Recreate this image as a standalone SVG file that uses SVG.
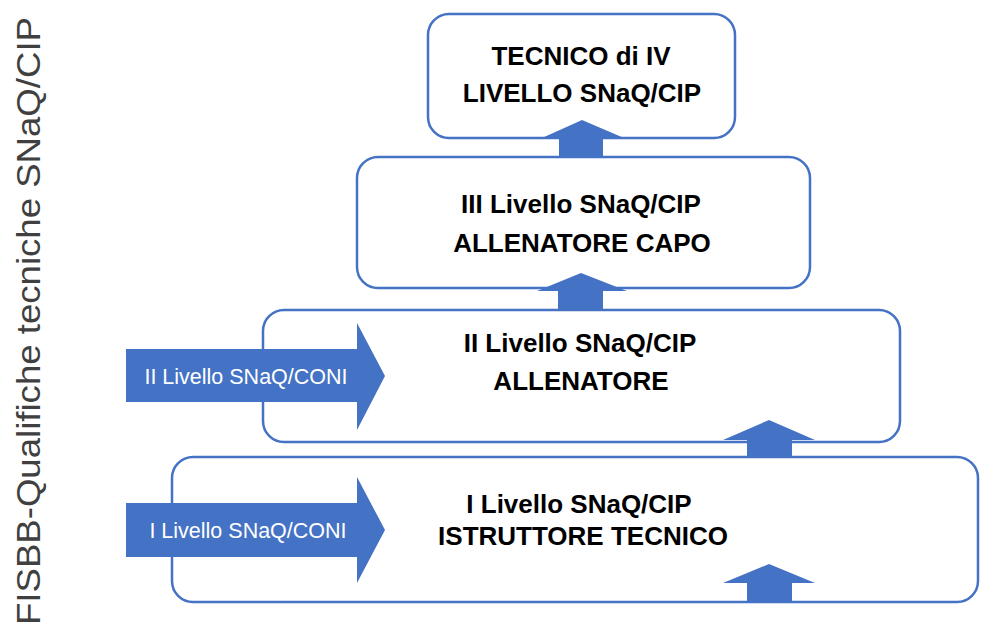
<svg xmlns="http://www.w3.org/2000/svg" width="981" height="628" viewBox="0 0 981 628">
  <style>
    .box { fill: #ffffff; stroke: #4472C4; stroke-width: 2.5; }
    .arrow { fill: #4472C4; stroke: none; }
    .lbl { font-family: "Liberation Sans", Arial, sans-serif; font-weight: bold; font-size: 26px; fill: #000000; text-anchor: middle; }
    .alabel { font-family: "Liberation Sans", Arial, sans-serif; font-size: 21.5px; fill: #ffffff; text-anchor: middle; }
    .side { font-family: "Liberation Sans", Arial, sans-serif; font-size: 34px; fill: #404040; }
  </style>
  <rect width="981" height="628" fill="#ffffff"/>

  <text class="side" transform="translate(40,625) rotate(-90)" textLength="608" lengthAdjust="spacingAndGlyphs">FISBB-Qualifiche tecniche SNaQ/CIP</text>

  <g id="livello1">
    <rect class="box" x="172" y="457" width="806" height="145" rx="21"/>
    <text class="lbl" x="579" y="513">I Livello SNaQ/CIP</text>
    <text class="lbl" x="583" y="545">ISTRUTTORE TECNICO</text>
  </g>

  <g id="livello2">
    <rect class="box" x="263" y="310" width="637" height="132" rx="21"/>
    <text class="lbl" x="580" y="352">II Livello SNaQ/CIP</text>
    <text class="lbl" x="581" y="390">ALLENATORE</text>
  </g>

  <g id="livello3">
    <rect class="box" x="357" y="157" width="453" height="131" rx="21"/>
    <text class="lbl" x="581" y="213">III Livello SNaQ/CIP</text>
    <text class="lbl" x="582" y="252">ALLENATORE CAPO</text>
  </g>

  <g id="livello4">
    <rect class="box" x="428" y="14" width="307" height="124" rx="21"/>
    <text class="lbl" x="581" y="65">TECNICO di IV</text>
    <text class="lbl" x="582" y="102">LIVELLO SNaQ/CIP</text>
  </g>

  <g id="coni2">
    <polygon class="arrow" points="126,349 357,349 357,323 385,376 357,430 357,402 126,402"/>
    <text class="alabel" x="246" y="384">II Livello SNaQ/CONI</text>
  </g>

  <g id="coni1">
    <polygon class="arrow" points="126,503 357,503 357,477 385,530 357,583 357,557 126,557"/>
    <text class="alabel" x="248" y="538">I Livello SNaQ/CONI</text>
  </g>

  <g id="connectors">
    <polygon class="arrow" points="747,602 747,583 723,583 769,564 815,583 792,583 792,602"/>
    <polygon class="arrow" points="747,458 747,440 723,440 769,420 815,440 792,440 792,458"/>
    <polygon class="arrow" points="558,310 558,291 537,291 581,273 627,291 603,291 603,310"/>
    <polygon class="arrow" points="559,157 559,138 542,138 582,120 624,138 603,138 603,157"/>
  </g>
</svg>
